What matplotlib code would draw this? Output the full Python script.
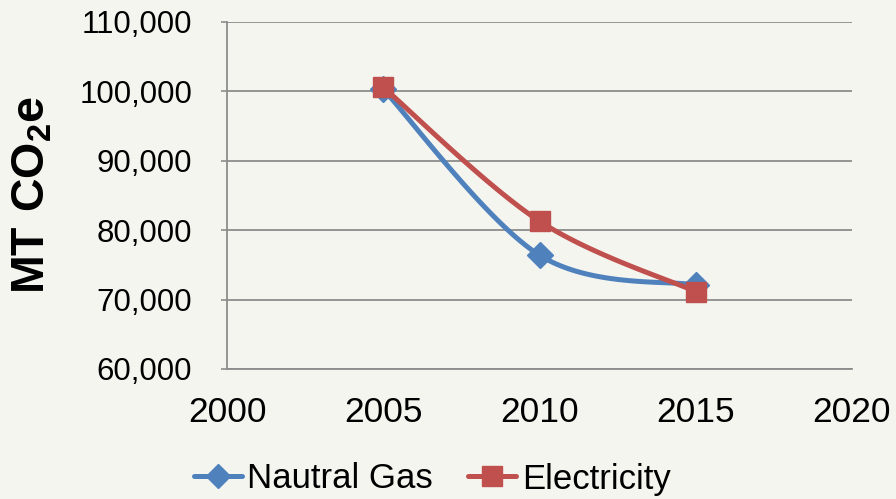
import numpy as np
import matplotlib
matplotlib.use("Agg")
import matplotlib.pyplot as plt
from matplotlib.lines import Line2D

years = [2005, 2010, 2015]
gas = [100300, 76400, 72100]
electricity = [100600, 81300, 71150]
series_names = ["Nautral Gas", "Electricity"]
xticks = [2000, 2005, 2010, 2015, 2020]
yticks = [60000, 70000, 80000, 90000, 100000, 110000]

plt.rcParams['font.family'] = ['Liberation Sans', 'DejaVu Sans']
plt.rcParams['mathtext.fontset'] = 'custom'
plt.rcParams['mathtext.rm'] = 'Liberation Sans'
plt.rcParams['mathtext.bf'] = 'Liberation Sans:bold'

BG = '#f5f5f0'
BLUE = '#4f81bd'
RED = '#c0504d'
GRID = '#8c8c8c'

W, H = 896, 499
fig = plt.figure(figsize=(W / 100, H / 100), dpi=100, facecolor=BG)
ax = fig.add_axes([227 / W, 1 - 369 / H, (852 - 227) / W, (369 - 22) / H], facecolor=BG)

XMIN, XMAX = 2000, 2020
YMIN, YMAX = 60000, 110000
AXW, AXH = 625.0, 347.0


def smooth(xs, ys, n=60):
    # Excel-like smoothing (Catmull-Rom style cubic Bezier) in screen-proportional units
    px = (np.asarray(xs, float) - XMIN) / (XMAX - XMIN) * AXW
    py = (np.asarray(ys, float) - YMIN) / (YMAX - YMIN) * AXH
    pts = np.column_stack([px, py])
    out = []
    m = len(pts)
    for i in range(m - 1):
        p0 = pts[i - 1] if i > 0 else pts[i]
        p1 = pts[i]
        p2 = pts[i + 1]
        p3 = pts[i + 2] if i + 2 < m else pts[i + 1]
        c1 = p1 + (p2 - p0) / 6.0
        c2 = p2 - (p3 - p1) / 6.0
        t = np.linspace(0, 1, n)[:, None]
        seg = ((1 - t) ** 3) * p1 + 3 * ((1 - t) ** 2) * t * c1 + 3 * (1 - t) * t ** 2 * c2 + t ** 3 * p2
        out.append(seg if i == 0 else seg[1:])
    out = np.vstack(out)
    return out[:, 0] / AXW * (XMAX - XMIN) + XMIN, out[:, 1] / AXH * (YMAX - YMIN) + YMIN


gx, gy = smooth(years, gas)
ex, ey = smooth(years, electricity)

LW = 3.6
ax.plot(gx, gy, color=BLUE, lw=LW, solid_capstyle='round', zorder=3)
ax.plot(years, gas, linestyle='none', marker='D', markersize=13, color=BLUE, zorder=4)
ax.plot(ex, ey, color=RED, lw=LW, solid_capstyle='round', zorder=5)
ax.plot(years, electricity, linestyle='none', marker='s', markersize=14.5, color=RED, zorder=6)

ax.set_xlim(XMIN, XMAX)
ax.set_ylim(YMIN, YMAX)
ax.set_xticks(xticks)
ax.set_yticks(yticks)
ax.set_yticklabels([f"{v:,}" for v in yticks])
ax.tick_params(axis='x', length=0, pad=19.5, labelsize=25.5)
ax.tick_params(axis='y', length=4, width=1.2, color=GRID, pad=21, labelsize=22.5, direction='out')
ax.grid(axis='y', color=GRID, lw=1.3, zorder=1)
ax.set_axisbelow(True)
for s in ['top', 'right']:
    ax.spines[s].set_visible(False)
for s in ['left', 'bottom']:
    ax.spines[s].set_color(GRID)
    ax.spines[s].set_linewidth(1.3)

fig.text(33 / W, 1 - 195 / H, r'$\mathbf{MT\ CO_2e}$', rotation=90, ha='center', va='center', fontsize=33.5)

handles = [
    Line2D([0], [0], color=BLUE, lw=LW, marker='D', markersize=12, solid_capstyle='round'),
    Line2D([0], [0], color=RED, lw=LW, marker='s', markersize=14, solid_capstyle='round'),
]
fig.legend(handles, series_names, loc='center', bbox_to_anchor=(432 / W, 1 - 479 / H), ncol=2,
           frameon=False, fontsize=25, handlelength=1.4, handletextpad=0.15, columnspacing=1.0,
           borderaxespad=0)

fig.savefig('out.png', dpi=100, facecolor=BG)
